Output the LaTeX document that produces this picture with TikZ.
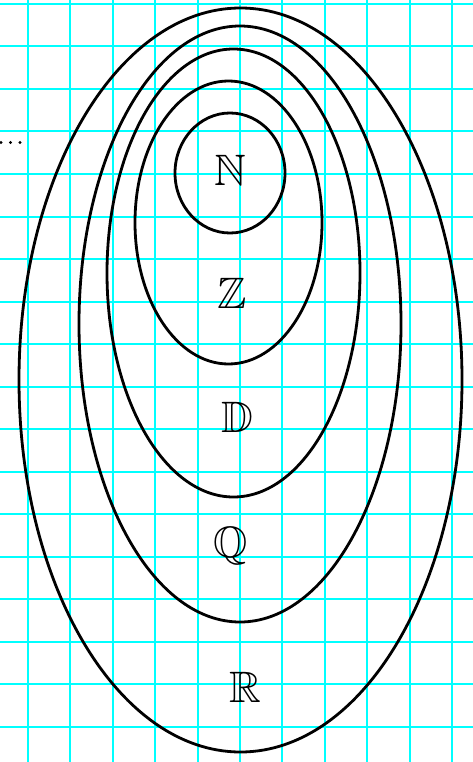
\documentclass[tikz,border=0pt]{standalone}
\usepackage{amssymb}
\begin{document}
\begin{tikzpicture}[x=1pt,y=-1pt,
  gridline/.style={draw={rgb,255:red,0;green,255;blue,255},line width=2pt},
  setline/.style={draw=black,line width=2.8pt},
  setlabel/.style={font=\fontsize{44}{44}\selectfont,inner sep=0pt}]
\useasboundingbox[fill=white] (0,0) rectangle (473,762);
\foreach \k in {0,...,10} {\draw[gridline] ({28+42.4*\k},0) -- ({28+42.4*\k},762);}
\foreach \k in {0,...,17} {\draw[gridline] (0,{4+42.5*\k}) -- (473,{4+42.5*\k});}
\draw[setline] (240.5,380) ellipse [x radius=221.5, y radius=372];
\draw[setline] (240,324) ellipse [x radius=161, y radius=298];
\draw[setline] (233.5,273) ellipse [x radius=126.5, y radius=224];
\draw[setline] (228.5,222.5) ellipse [x radius=93.5, y radius=141.5];
\draw[setline] (230,173) ellipse [x radius=55, y radius=60];
\node[setlabel] (n) at (230,170) {$\mathbb{N}$};
\node[setlabel] (z) at (232,293) {$\mathbb{Z}$};
\node[setlabel] (d) at (237,417) {$\mathbb{D}$};
\node[setlabel] (q) at (231,546) {$\mathbb{Q}$};
\node[setlabel] (r) at (245,687) {$\mathbb{R}$};
\foreach \x in {1,10.5,20} {\fill[black] (\x,142.5) circle (1.6);}
\end{tikzpicture}
\end{document}
